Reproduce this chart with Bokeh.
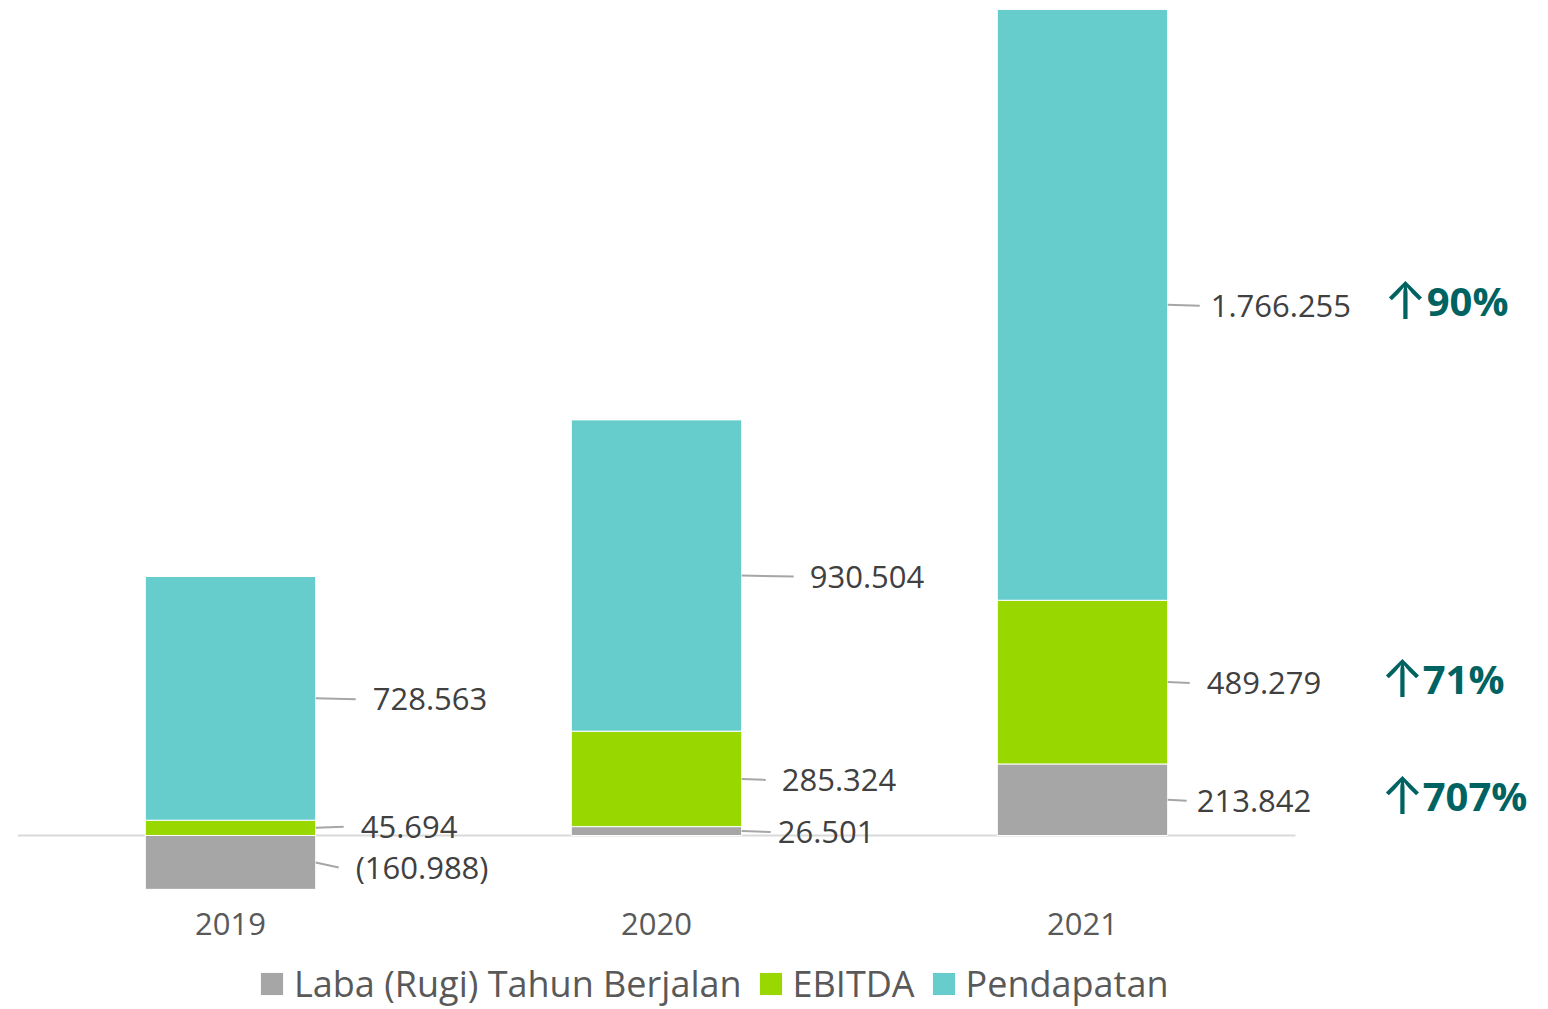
import numpy as np
from bokeh.plotting import figure
from bokeh.models import Range1d, FixedTicker, Legend, LegendItem
from bokeh.core.properties import value
from bokeh.embed import file_html
from bokeh.resources import INLINE

# ---------------- data ----------------
years = ["2019", "2020", "2021"]
series_names = ["Laba (Rugi) Tahun Berjalan", "EBITDA", "Pendapatan"]
laba = [-160988, 26501, 213842]
ebitda = [45694, 285324, 489279]
pendapatan = [728563, 930504, 1766255]
growth_labels = ["707%", "71%", "90%"]   # 2021 vs 2020, per series

# ---------------- style ----------------
colors = ["#A6A6A6", "#99D700", "#66CDCC"]
FONT = "Open Sans"
LABEL_COLOR = "#404040"
TICK_COLOR = "#595959"
ARROW_COLOR = "#006361"

# label gap / leader length / vertical shift (px), per series then per year
label_gap = [[40, 36, 29], [45, 40, 39], [57, 68, 43]]
leader_len = [[23, 29, 19], [28, 24, 22], [40, 52, 32]]
label_dy = [[5, 1, 1], [-1, 1, 1], [1, 1, 1]]

W, H = 1545, 1008
FRAME_L, FRAME_T = 17, 8
FRAME_W, FRAME_H = 1518, 1000
CAT_PX = 426.0
PX_PER_UNIT = 892 / 2666300.0
Y_END = 2472000
Y_START = Y_END - FRAME_H / PX_PER_UNIT
AXIS_Y = Y_END - 892 / PX_PER_UNIT        # where the category labels hang

x_end = FRAME_W / CAT_PX
px_per_y = PX_PER_UNIT

p = figure(width=W, height=H, output_backend="svg", toolbar_location=None,
           x_range=Range1d(0, x_end), y_range=Range1d(Y_START, Y_END),
           min_border_left=FRAME_L, min_border_top=FRAME_T,
           min_border_right=W - FRAME_L - FRAME_W, min_border_bottom=0)
p.outline_line_color = None
p.grid.visible = False
p.yaxis.visible = False
p.background_fill_color = "white"
p.border_fill_color = "white"

xs = np.arange(len(years)) + 0.5
bw = 0.4
vals = [np.array(laba, float), np.array(ebitda, float), np.array(pendapatan, float)]

# stacking: positives and negatives stacked separately
pos = np.zeros(len(years))
neg = np.zeros(len(years))
bottoms, tops = [], []
for v in vals:
    b = np.where(v >= 0, pos, neg)
    t = b + v
    pos = np.where(v >= 0, t, pos)
    neg = np.where(v < 0, t, neg)
    bottoms.append(b)
    tops.append(t)

# baseline (axis line)
p.segment(x0=[0], y0=[0], x1=[len(years)], y1=[0], line_color="#D9D9D9", line_width=2)

renderers = []
for s in range(3):
    r = p.vbar(x=xs, bottom=bottoms[s], top=tops[s], width=bw,
               fill_color=colors[s], line_color="white", line_width=1)
    renderers.append(r)


def fmt(v):
    s = f"{abs(int(v)):,}".replace(",", ".")
    return f"({s})" if v < 0 else s


lx, ly, lt, mxs, mys = [], [], [], [], []
for s in range(3):
    for i in range(len(years)):
        mid = (bottoms[s][i] + tops[s][i]) / 2
        edge = xs[i] + bw / 2
        yl = mid - label_dy[s][i] / px_per_y
        lx.append(edge + label_gap[s][i] / CAT_PX)
        ly.append(yl)
        lt.append(fmt(vals[s][i]))
        mxs.append([edge, edge + leader_len[s][i] / CAT_PX])
        mys.append([mid, yl])

p.multi_line(xs=mxs, ys=mys, line_color="#A6A6A6", line_width=2)
p.text(x=lx, y=ly, text=lt, text_font=value(FONT), text_font_size="31px",
       text_color=LABEL_COLOR, text_baseline="middle", text_align="left")

# growth annotations next to the 2021 bar
last = len(years) - 1
edge = xs[last] + bw / 2
arrow_off = [213, 213, 216]
pct_off = [255, 255, 259]
ax_, ay_, px_, py_ = [], [], [], []
for s in range(3):
    mid = (bottoms[s][last] + tops[s][last]) / 2
    ax_.append(edge + arrow_off[s] / CAT_PX)
    px_.append(edge + pct_off[s] / CAT_PX)
    ay_.append(mid + 4 / px_per_y)
    py_.append(mid + 4 / px_per_y)
p.text(x=ax_, y=ay_, text=["↑"] * 3, text_font=value("Inter"), text_font_size="52px",
       text_color=ARROW_COLOR, text_baseline="middle", text_align="left")
p.text(x=px_, y=py_, text=growth_labels, text_font=value(FONT), text_font_size="40px",
       text_font_style="bold", text_color=ARROW_COLOR, text_baseline="middle", text_align="left")

# x axis (category labels), hung under the plotted bars
p.xaxis.fixed_location = AXIS_Y
p.xaxis.ticker = FixedTicker(ticks=list(xs))
p.xaxis.major_label_overrides = {float(x): y for x, y in zip(xs, years)}
p.xaxis.axis_line_color = None
p.xaxis.major_tick_line_color = None
p.xaxis.minor_tick_line_color = None
p.xaxis.major_tick_out = 0
p.xaxis.major_tick_in = 0
p.xaxis.major_label_standoff = 12
p.xaxis.major_label_text_font = FONT
p.xaxis.major_label_text_font_size = "31px"
p.xaxis.major_label_text_color = TICK_COLOR

legend = Legend(items=[LegendItem(label=n, renderers=[r]) for n, r in zip(series_names, renderers)],
                orientation="horizontal", location=(240, 0),
                glyph_width=29, glyph_height=29, label_standoff=8, spacing=14,
                label_text_font=FONT, label_text_font_size="36px", label_text_color=TICK_COLOR,
                border_line_color=None, background_fill_alpha=0, padding=0, margin=0)
p.add_layout(legend, "center")

open("out.html", "w").write(file_html(p, INLINE))
